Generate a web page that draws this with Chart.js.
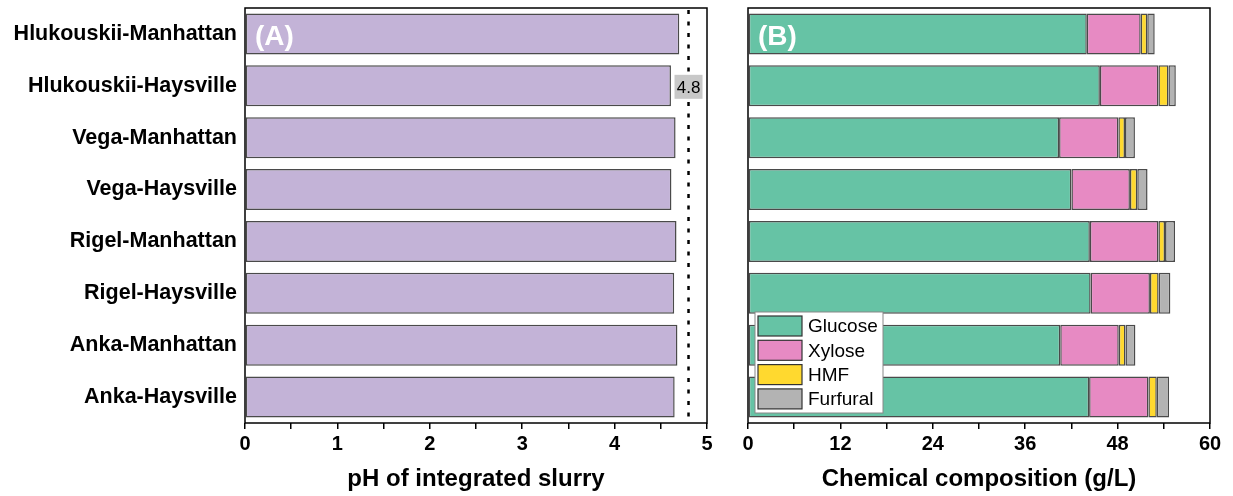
<!DOCTYPE html>
<html>
<head>
<meta charset="utf-8">
<script src="https://cdn.jsdelivr.net/npm/chart.js@4.4.1/dist/chart.umd.min.js"></script>
<style>
  html, body { margin: 0; padding: 0; background: #fff; overflow: hidden; }
  #wrap { position: relative; width: 1233px; height: 496px; }
  #chartA { position: absolute; left: 0; top: 0; }
  #chartB { position: absolute; left: 720px; top: 0; }
</style>
</head>
<body>
<div id="wrap">
  <canvas id="chartA" width="720" height="496"></canvas>
  <canvas id="chartB" width="513" height="496"></canvas>
</div>
<script>
// sites / varieties (top to bottom)
var categories = ['Hlukouskii-Manhattan', 'Hlukouskii-Haysville', 'Vega-Manhattan', 'Vega-Haysville',
                  'Rigel-Manhattan', 'Rigel-Haysville', 'Anka-Manhattan', 'Anka-Haysville'];

// panel A: pH of integrated slurry
var phValues = [4.70, 4.61, 4.66, 4.615, 4.67, 4.645, 4.68, 4.65];
var phReference = 4.8;

// panel B: chemical composition (g/L)
var glucose  = [44.0, 45.7, 40.4, 42.0, 44.4, 44.5, 40.55, 44.3];
var xylose   = [7.0, 7.6, 7.7, 7.6, 8.9, 7.7, 7.6, 7.7];
var hmf      = [0.85, 1.3, 0.86, 0.95, 0.86, 1.13, 0.87, 1.09];
var furfural = [0.97, 0.96, 1.29, 1.34, 1.3, 1.52, 1.29, 1.6];
var seriesNames = ['Glucose', 'Xylose', 'HMF', 'Furfural'];
var seriesColors = ['#66C3A5', '#E78AC3', '#FFD92F', '#B3B3B3'];

var FONT = "'Liberation Sans', Arial, sans-serif";
Chart.defaults.font.family = FONT;
Chart.defaults.color = '#000';

// frame around the plot area
var framePlugin = {
  id: 'frame',
  afterDatasetsDraw: function(chart) {
    var a = chart.chartArea, ctx = chart.ctx;
    ctx.save();
    ctx.strokeStyle = '#000';
    ctx.lineWidth = 1.5;
    ctx.strokeRect(a.left, a.top, a.right - a.left, a.bottom - a.top);
    ctx.restore();
  }
};

function panelLetter(chart, text) {
  var ctx = chart.ctx;
  var y = chart.scales.y.getPixelForValue(0);
  ctx.save();
  ctx.fillStyle = '#fff';
  ctx.font = 'bold 28px ' + FONT;
  ctx.textBaseline = 'middle';
  ctx.fillText(text, chart.chartArea.left + 10, y + 3);
  ctx.restore();
}

var xAxisBase = function(title, max, step, major) {
  return {
    type: 'linear',
    min: 0, max: max,
    grid: { drawOnChartArea: false, color: '#000', lineWidth: 1.5, tickLength: 6 },
    border: { display: false },
    ticks: {
      stepSize: step, autoSkip: false, maxRotation: 0, padding: 3,
      font: { size: 20, weight: 'bold' },
      callback: function(v) { return (Math.abs(v / major - Math.round(v / major)) < 1e-6) ? v : ''; }
    },
    title: { display: true, text: title, font: { size: 24, weight: 'bold' }, padding: { top: 0, bottom: 2 } },
    afterFit: function(s) { s.height = 73; }
  };
};

// ---- panel A ----
var refLinePlugin = {
  id: 'refLine',
  afterDatasetsDraw: function(chart) {
    var ctx = chart.ctx, a = chart.chartArea;
    var x = chart.scales.x.getPixelForValue(phReference);
    ctx.save();
    ctx.strokeStyle = '#000';
    ctx.lineWidth = 2.5;
    ctx.setLineDash([4, 7.5]);
    ctx.beginPath();
    ctx.moveTo(x, a.top + 2);
    ctx.lineTo(x, a.bottom);
    ctx.stroke();
    ctx.setLineDash([]);
    var y = chart.scales.y.getPixelForValue(1) + 1;
    ctx.fillStyle = '#C8C8C8';
    ctx.fillRect(x - 14, y - 12, 28, 24);
    ctx.fillStyle = '#000';
    ctx.font = '17px ' + FONT;
    ctx.textAlign = 'center';
    ctx.textBaseline = 'middle';
    ctx.fillText(String(phReference), x, y + 1);
    ctx.restore();
    panelLetter(chart, '(A)');
  }
};

new Chart(document.getElementById('chartA'), {
  type: 'bar',
  data: {
    labels: categories,
    datasets: [{
      data: phValues,
      backgroundColor: '#C3B3D7',
      borderColor: '#4A4A4A',
      borderWidth: 1.5,
      borderSkipped: false,
      categoryPercentage: 1,
      barPercentage: 0.79
    }]
  },
  options: {
    indexAxis: 'y',
    responsive: false,
    animation: false,
    layout: { padding: { left: 0, right: 13, top: 8, bottom: 0 } },
    plugins: { legend: { display: false }, tooltip: { enabled: false } },
    scales: {
      x: xAxisBase('pH of integrated slurry', 5, 0.5, 1),
      y: {
        grid: { display: false },
        border: { display: false },
        ticks: { padding: 0, font: { size: 21.5, weight: 'bold' } },
        afterFit: function(s) { s.width = 245; s.paddingTop = 0; s.paddingBottom = 0; }
      }
    }
  },
  plugins: [framePlugin, refLinePlugin]
});

// ---- panel B ----
var legendBoxPlugin = {
  id: 'legendBox',
  afterDatasetsDraw: function(chart) {
    var ctx = chart.ctx, a = chart.chartArea;
    var bx = a.left + 7, by = a.bottom - 111;
    ctx.save();
    ctx.fillStyle = '#fff';
    ctx.fillRect(bx, by, 128, 101);
    ctx.strokeStyle = '#888';
    ctx.lineWidth = 1;
    ctx.strokeRect(bx, by, 128, 101);
    ctx.font = '19px ' + FONT;
    ctx.textBaseline = 'middle';
    chart.data.datasets.forEach(function(ds, i) {
      var cy = by + 14 + i * 24.3;
      ctx.fillStyle = ds.backgroundColor;
      ctx.fillRect(bx + 3, cy - 10, 44, 20);
      ctx.strokeStyle = '#333';
      ctx.lineWidth = 1.2;
      ctx.strokeRect(bx + 3, cy - 10, 44, 20);
      ctx.fillStyle = '#000';
      ctx.fillText(ds.label, bx + 53, cy + 1);
    });
    ctx.restore();
    panelLetter(chart, '(B)');
  }
};

var compSeries = [glucose, xylose, hmf, furfural];
new Chart(document.getElementById('chartB'), {
  type: 'bar',
  data: {
    labels: categories,
    datasets: compSeries.map(function(vals, i) {
      return {
        label: seriesNames[i],
        data: vals,
        backgroundColor: seriesColors[i],
        borderColor: '#4A4A4A',
        borderWidth: 1.5,
        borderSkipped: false,
        categoryPercentage: 1,
        barPercentage: 0.79
      };
    })
  },
  options: {
    indexAxis: 'y',
    responsive: false,
    animation: false,
    layout: { padding: { left: 28, right: 23, top: 8, bottom: 0 } },
    plugins: { legend: { display: false }, tooltip: { enabled: false } },
    scales: {
      x: Object.assign(xAxisBase('Chemical composition (g/L)', 60, 6, 12), { stacked: true }),
      y: { stacked: true, display: false }
    }
  },
  plugins: [framePlugin, legendBoxPlugin]
});
</script>
</body>
</html>
